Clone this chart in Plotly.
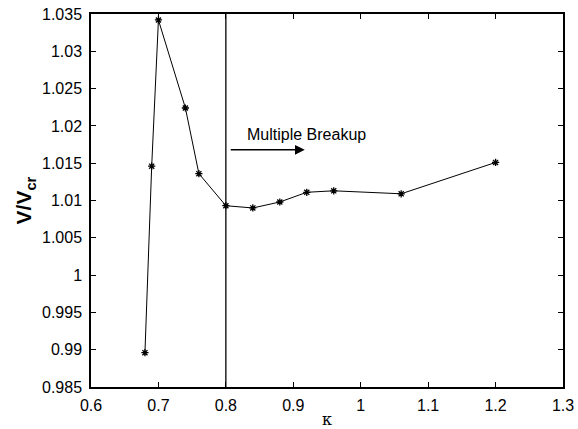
import plotly.graph_objects as go

kappa = [0.68, 0.69, 0.70, 0.74, 0.76, 0.80, 0.84, 0.88, 0.92, 0.96, 1.06, 1.20]
v_ratio = [0.9896, 1.0146, 1.0342, 1.0224, 1.0136, 1.0093, 1.0090, 1.0098, 1.0111, 1.0113, 1.0109, 1.0151]
x_ticks = [0.6, 0.7, 0.8, 0.9, 1.0, 1.1, 1.2, 1.3]
x_tick_text = ["0.6", "0.7", "0.8", "0.9", "1", "1.1", "1.2", "1.3"]
y_ticks = [0.985, 0.99, 0.995, 1.0, 1.005, 1.01, 1.015, 1.02, 1.025, 1.03, 1.035]
y_tick_text = ["0.985", "0.99", "0.995", "1", "1.005", "1.01", "1.015", "1.02", "1.025", "1.03", "1.035"]
breakup_kappa = 0.8

fig = go.Figure()
fig.add_trace(go.Scatter(
    x=kappa, y=v_ratio, mode="lines+markers",
    line=dict(color="black", width=1),
    marker=dict(symbol="asterisk-open", size=6, color="black", line=dict(color="black", width=1.3)),
    showlegend=False,
))
fig.add_shape(type="line", x0=breakup_kappa, x1=breakup_kappa, y0=0, y1=1,
              xref="x", yref="paper", line=dict(color="black", width=1.3))
fig.add_annotation(x=0.917, y=1.0168, ax=0.805, ay=1.0168, xref="x", yref="y",
                   axref="x", ayref="y", text="", showarrow=True,
                   arrowhead=2, arrowsize=1.3, arrowwidth=1.5, arrowcolor="black")
fig.add_annotation(x=0.828, y=1.0189, xref="x", yref="y", text="Multiple Breakup",
                   showarrow=False, xanchor="left", yanchor="middle",
                   font=dict(family="Liberation Sans, Arial", size=16, color="black"))
fig.add_annotation(x=-0.14, y=0.5, xref="paper", yref="paper",
                   text="<b>V/V<sub>cr</sub></b>", textangle=-90, showarrow=False,
                   xanchor="center", yanchor="middle",
                   font=dict(family="Liberation Sans, Arial", size=21, color="black"))

axis_common = dict(showgrid=False, zeroline=False, ticks="inside", ticklen=5,
                   tickcolor="black", showline=True, linecolor="black", linewidth=1.5,
                   mirror="ticks", automargin=False,
                   tickfont=dict(family="Liberation Sans, Arial", size=16, color="black"))
fig.update_xaxes(range=[0.6, 1.3], tickvals=x_ticks, ticktext=x_tick_text,
                 ticklabelstandoff=3,
                 title=dict(text="κ", font=dict(family="DejaVu Serif", size=16, color="black")),
                 **axis_common)
fig.update_yaxes(range=[0.985, 1.035], tickvals=y_ticks, ticktext=y_tick_text,
                 ticklabelstandoff=4, **axis_common)
fig.update_layout(width=578, height=429, margin=dict(l=91, r=15, t=14, b=42),
                  plot_bgcolor="white", paper_bgcolor="white")
fig.write_html("out.html")
